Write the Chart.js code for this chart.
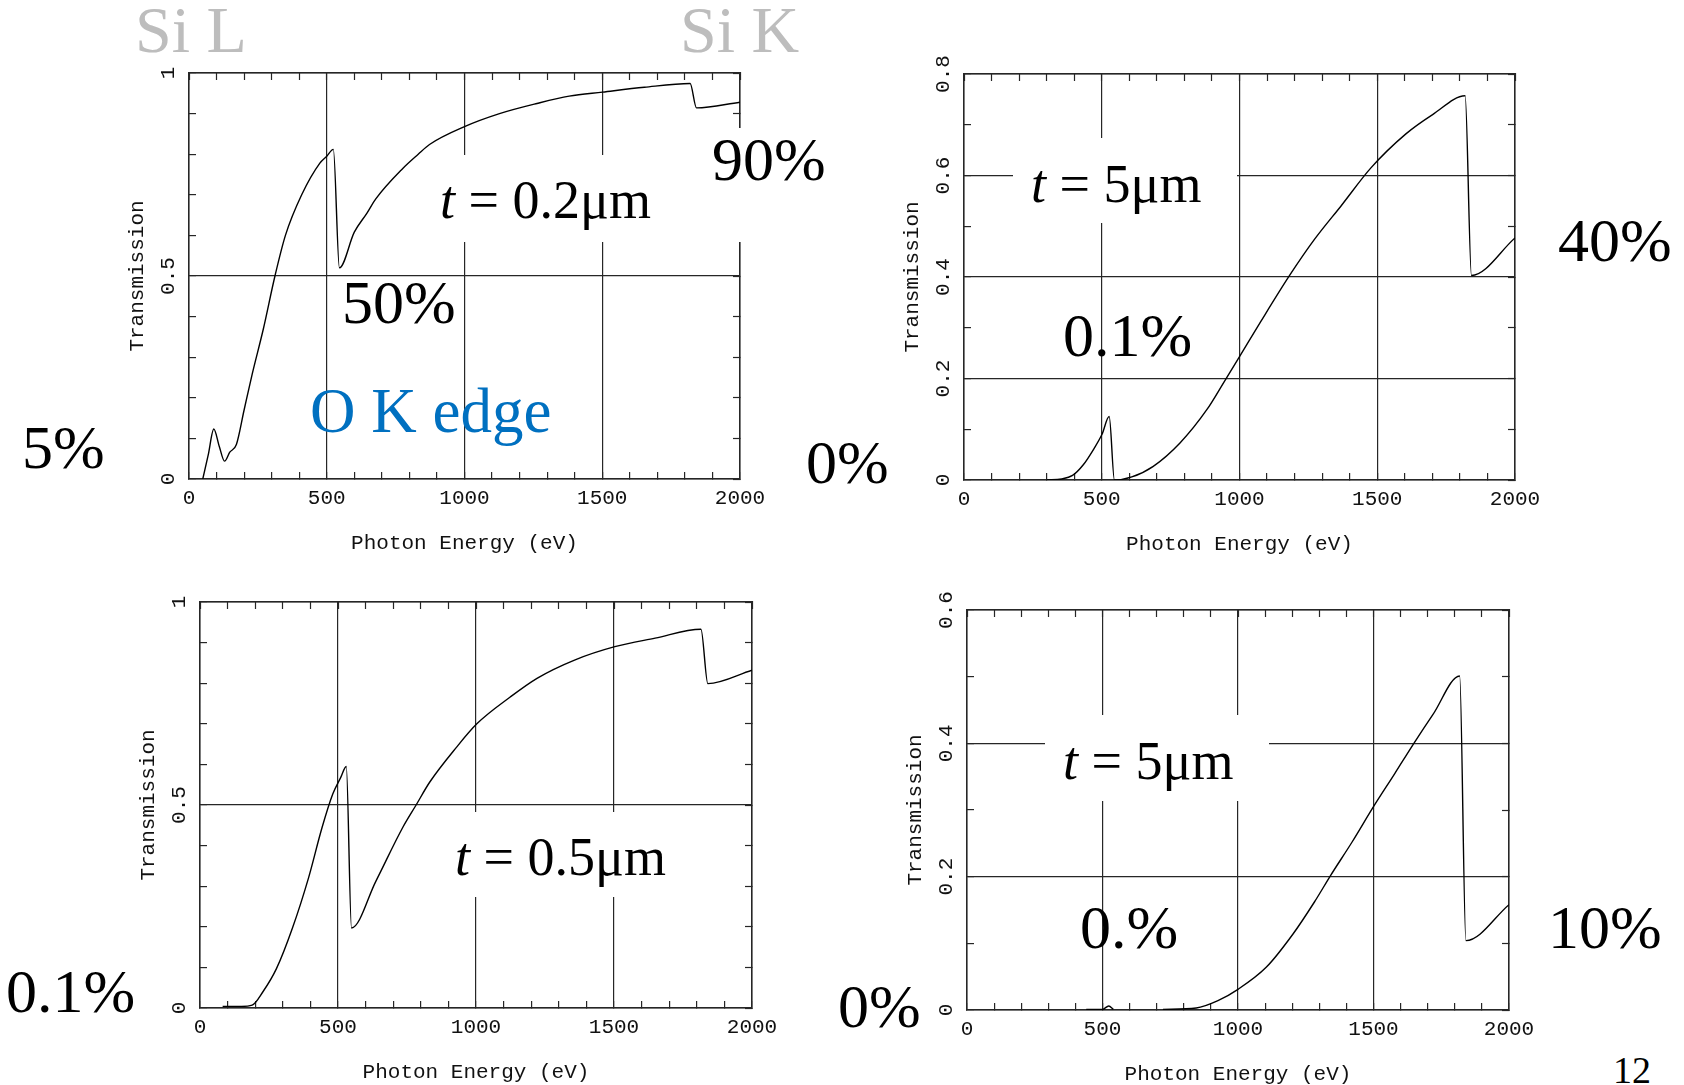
<!DOCTYPE html>
<html>
<head>
<meta charset="utf-8">
<script src="https://cdn.jsdelivr.net/npm/chart.js@4.4.1/dist/chart.umd.min.js"></script>
<style>
  html, body { margin: 0; padding: 0; background: #fff; }
  body { width: 1684px; height: 1085px; position: relative; overflow: hidden; }
  canvas { position: absolute; }
  .note { position: absolute; font-family: "Liberation Serif", "Times New Roman", serif; line-height: 1; white-space: nowrap; color: #000; z-index: 2; }
  .mask { position: absolute; background: #fff; z-index: 1; }
</style>
</head>
<body>
<canvas id="thin02"></canvas>
<canvas id="thick5a"></canvas>
<canvas id="thin05"></canvas>
<canvas id="thick5b"></canvas>
<script>
// transmission vs photon energy
const energy02 = [50, 70, 90, 110, 129, 148, 172, 200, 230, 270, 312, 350, 409, 475, 500, 524, 546, 600, 646, 678, 776, 832, 873, 1000, 1127, 1263, 1380, 1501, 1653, 1819, 1842, 2000];
const trans02  = [0, 0.06, 0.123, 0.08, 0.044, 0.066, 0.085, 0.17, 0.26, 0.37, 0.5, 0.6, 0.7, 0.778, 0.795, 0.812, 0.52, 0.608, 0.655, 0.69, 0.765, 0.8, 0.824, 0.868, 0.9, 0.925, 0.943, 0.953, 0.965, 0.974, 0.914, 0.928];

const energy5a = [300, 355, 394, 433, 472, 501, 527, 546, 609, 687, 784, 882, 947, 999, 1077, 1183, 1272, 1370, 1477, 1604, 1701, 1819, 1842, 2000];
const trans5a  = [0, 0.002, 0.009, 0.03, 0.062, 0.09, 0.125, 0, 0.006, 0.027, 0.073, 0.139, 0.196, 0.242, 0.312, 0.404, 0.474, 0.541, 0.615, 0.682, 0.72, 0.757, 0.403, 0.477];

const energy05 = [82, 150, 189, 228, 277, 335, 393, 442, 481, 510, 530, 549, 637, 734, 783, 832, 929, 1003, 1124, 1221, 1357, 1503, 1649, 1815, 1840, 2000];
const trans05  = [0.004, 0.004, 0.007, 0.04, 0.097, 0.197, 0.32, 0.444, 0.527, 0.568, 0.595, 0.197, 0.312, 0.444, 0.5, 0.556, 0.642, 0.7, 0.766, 0.812, 0.857, 0.89, 0.911, 0.933, 0.799, 0.832];

const energy5b = [440, 500, 523, 540, 560, 723, 846, 926, 1000, 1104, 1203, 1282, 1342, 1421, 1500, 1579, 1649, 1719, 1818, 1841, 2000];
const trans5b  = [0.001, 0.001, 0.006, 0.001, null, 0.001, 0.003, 0.014, 0.031, 0.064, 0.114, 0.162, 0.202, 0.252, 0.305, 0.355, 0.4, 0.443, 0.501, 0.104, 0.158];

const xTickStep = 100;
const xLabelStep = 500;

const LINE = '#262626';
const TEXT = '#111';
const monoFont = { family: '"Liberation Mono", "DejaVu Sans Mono", monospace', size: 21 };

function onStep(v, step) {
  const q = v / step;
  return Math.abs(q - Math.round(q)) < 1e-6;
}

function fixSize(w, h) {
  return scale => {
    if (w !== null) scale.width = w;
    if (h !== null) scale.height = h;
    scale.paddingLeft = scale.paddingRight = scale.paddingTop = scale.paddingBottom = 0;
  };
}

// box = plot area in page pixels
function makePanel(id, box, energy, trans, yMax, yGridStep, yLabelStep) {
  const canvas = document.getElementById(id);
  canvas.width = box.r - box.l + 120;
  canvas.height = box.b - box.t + 110;
  canvas.style.left = (box.l - 80) + 'px';
  canvas.style.top = (box.t - 20) + 'px';

  const tickCol = () => LINE;
  const border = { color: LINE, width: 1.5 };

  new Chart(canvas, {
    type: 'line',
    data: {
      datasets: [{
        data: energy.map((e, i) => ({ x: e, y: trans[i] })),
        borderColor: '#000',
        borderWidth: 1.4,
        pointRadius: 0,
        cubicInterpolationMode: 'monotone',
        spanGaps: false
      }]
    },
    options: {
      responsive: false,
      animation: false,
      devicePixelRatio: 1,
      layout: { padding: { left: 10, top: 20, right: 40, bottom: 10 } },
      plugins: { legend: { display: false }, tooltip: { enabled: false } },
      scales: {
        x: {
          type: 'linear', position: 'bottom', min: 0, max: 2000,
          afterFit: fixSize(null, 80),
          ticks: {
            stepSize: xTickStep, autoSkip: false, maxRotation: 0, padding: 13.9,
            color: TEXT, font: monoFont,
            callback: v => onStep(v, xLabelStep) ? String(v) : ''
          },
          grid: {
            color: ctx => onStep(ctx.tick.value, xLabelStep) ? LINE : 'rgba(0,0,0,0)',
            lineWidth: 1.2, tickLength: -7, tickColor: tickCol, tickWidth: 1.2
          },
          border: border,
          title: { display: true, text: 'Photon Energy (eV)', color: TEXT, font: monoFont, padding: { top: 0, bottom: 3.4 } }
        },
        x2: {
          type: 'linear', position: 'top', min: 0, max: 2000,
          afterFit: fixSize(null, 0),
          ticks: { display: false, stepSize: xTickStep, autoSkip: false },
          grid: { drawOnChartArea: false, tickLength: -7, tickColor: tickCol, tickWidth: 1.2 },
          border: border
        },
        y: {
          type: 'linear', position: 'left', min: 0, max: yMax,
          afterFit: fixSize(70, null),
          ticks: {
            stepSize: 0.1, autoSkip: false, minRotation: 90, maxRotation: 90,
            crossAlign: 'center', padding: 9.1,
            color: TEXT, font: monoFont,
            callback: v => onStep(v, yLabelStep) ? String(Number(v.toFixed(1))) : ''
          },
          grid: {
            color: ctx => onStep(ctx.tick.value, yGridStep) ? LINE : 'rgba(0,0,0,0)',
            lineWidth: 1.2, tickLength: -7, tickColor: tickCol, tickWidth: 1.2
          },
          border: border,
          title: { display: true, text: 'Transmission', color: TEXT, font: monoFont, padding: { top: 5.4, bottom: 0 } }
        },
        y2: {
          type: 'linear', position: 'right', min: 0, max: yMax,
          afterFit: fixSize(0, null),
          ticks: { display: false, stepSize: 0.1, autoSkip: false },
          grid: { drawOnChartArea: false, tickLength: -7, tickColor: tickCol, tickWidth: 1.2 },
          border: border
        }
      }
    }
  });
}

makePanel('thin02',  { l: 189, t: 73,  r: 740,  b: 479 },  energy02, trans02, 1,   0.5, 0.5);
makePanel('thick5a', { l: 964, t: 74,  r: 1515, b: 480 },  energy5a, trans5a, 0.8, 0.2, 0.2);
makePanel('thin05',  { l: 200, t: 602, r: 752,  b: 1008 }, energy05, trans05, 1,   0.5, 0.5);
makePanel('thick5b', { l: 967, t: 610, r: 1509, b: 1010 }, energy5b, trans5b, 0.6, 0.2, 0.2);

// white boxes behind the thickness labels (they cut the grid lines)
const masks = [
  [422, 155, 250, 87],
  [700, 128, 130, 114],
  [1013, 138, 224, 85],
  [430, 812, 260, 85],
  [1045, 715, 224, 86]
];
masks.forEach(([x, y, w, h]) => {
  const d = document.createElement('div');
  d.className = 'mask';
  d.style.cssText = `left:${x}px;top:${y}px;width:${w}px;height:${h}px;`;
  document.body.appendChild(d);
});

// [text, left, baseline, size, colour]
const notes = [
  ['Si L', 135, 52, 66, '#bdbdbd'],
  ['Si K', 680, 52, 66, '#bdbdbd'],
  ['90%', 712, 180, 62, '#000'],
  ['<i>t</i> = 0.2μm', 440, 218, 54, '#000'],
  ['50%', 342, 323, 62, '#000'],
  ['O K edge', 310, 433, 63, '#0070c0'],
  ['5%', 22, 468, 62, '#000'],
  ['0%', 806, 483, 62, '#000'],
  ['<i>t</i> = 5μm', 1031, 202, 54, '#000'],
  ['40%', 1558, 261, 62, '#000'],
  ['0.1%', 1063, 356, 62, '#000'],
  ['<i>t</i> = 0.5μm', 455, 875, 54, '#000'],
  ['0.1%', 6, 1012, 62, '#000'],
  ['<i>t</i> = 5μm', 1063, 779, 54, '#000'],
  ['0.%', 1080, 948, 62, '#000'],
  ['10%', 1548, 948, 62, '#000'],
  ['0%', 838, 1027, 62, '#000'],
  ['12', 1613, 1083, 38, '#000']
];
notes.forEach(([html, x, base, size, col]) => {
  const d = document.createElement('div');
  d.className = 'note';
  d.innerHTML = html;
  d.style.cssText = `left:${x}px;top:${(base - 0.8375 * size).toFixed(1)}px;font-size:${size}px;color:${col};`;
  document.body.appendChild(d);
});
</script>
</body>
</html>
